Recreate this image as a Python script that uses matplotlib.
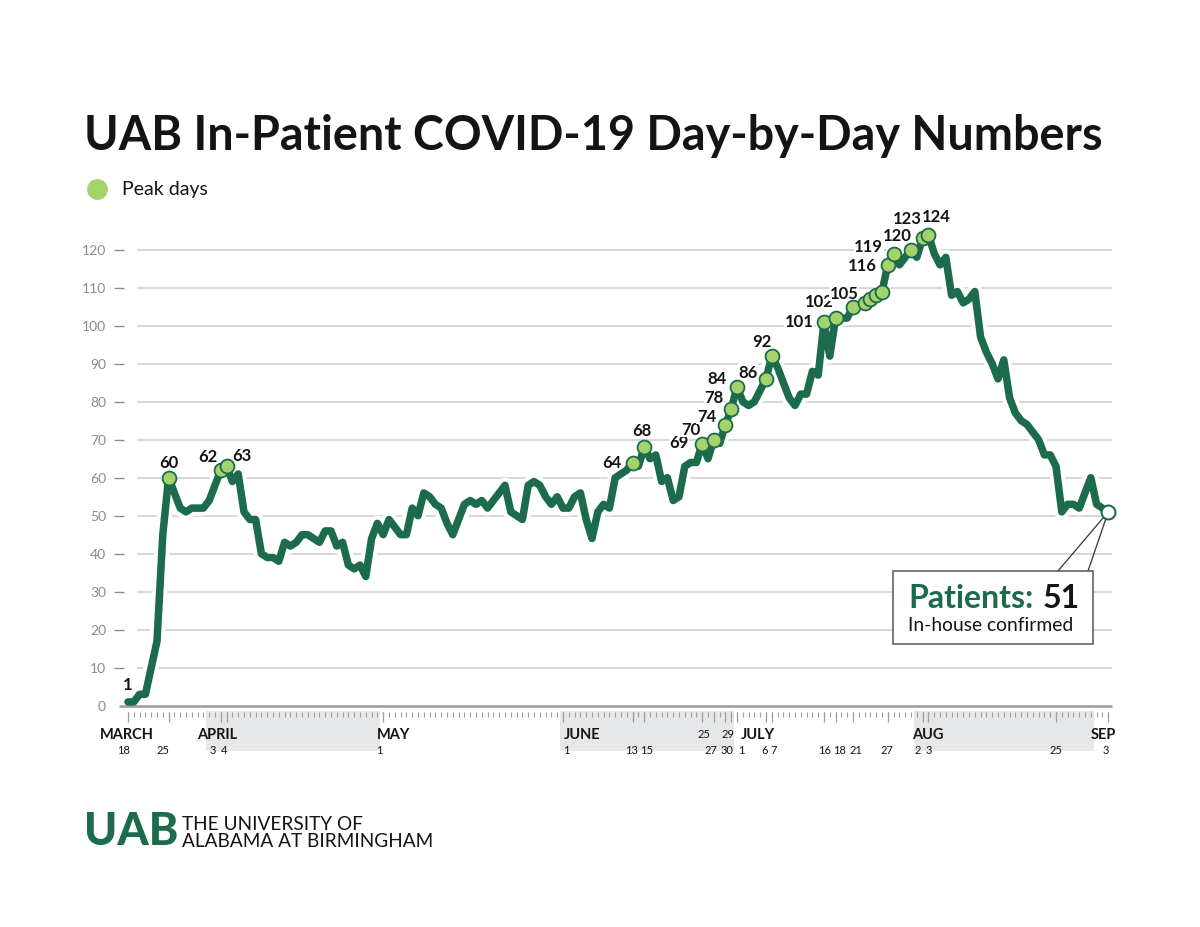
import matplotlib.pyplot as plt
from matplotlib.lines import Line2D
from matplotlib.patches import Rectangle
import numpy as np
import pandas as pd

plt.rcParams['font.family'] = ['Lato', 'DejaVu Sans']

GREEN = '#1b6b4c'
LIGHT = '#a4d36b'
GRID = '#d4d4d4'
AXIS = '#9a9a9a'
BAND = '#e6e7e9'
GREYTXT = '#8c8c8c'
INK = '#141414'

# daily in-patient counts, Mar 18 - Sep 3 2020
dates = pd.date_range('2020-03-18', '2020-09-03', freq='D')
patients = [
    1, 1, 3, 3, 10, 17, 45, 60, 56, 52,
    51, 52, 52, 52, 54, 58, 62, 63, 59, 61,
    51, 49, 49, 40, 39, 39, 38, 43, 42, 43,
    45, 45, 44, 43, 46, 46, 42, 43, 37, 36,
    37, 34, 44, 48, 45, 49, 47, 45, 45, 52,
    50, 56, 55, 53, 52, 48, 45, 49, 53, 54,
    53, 54, 52, 54, 56, 58, 51, 50, 49, 58,
    59, 58, 55, 53, 55, 52, 52, 55, 56, 49,
    44, 51, 53, 52, 60, 61, 62, 64, 63, 68,
    65, 66, 59, 60, 54, 55, 63, 64, 64, 69,
    65, 70, 69, 74, 78, 84, 80, 79, 80, 83,
    86, 92, 89, 85, 81, 79, 82, 82, 88, 87,
    101, 92, 102, 102, 102, 105, 105, 106, 107, 108,
    109, 116, 119, 116, 118, 120, 118, 123, 124, 119,
    116, 118, 108, 109, 106, 107, 109, 97, 93, 90,
    86, 91, 81, 77, 75, 74, 72, 70, 66, 66,
    63, 51, 53, 53, 52, 56, 60, 53, 52, 51,
]

peak_dates = ['2020-03-25', '2020-04-03', '2020-04-04', '2020-06-13', '2020-06-15',
              '2020-06-25', '2020-06-27', '2020-06-29', '2020-06-30', '2020-07-01',
              '2020-07-06', '2020-07-07', '2020-07-16', '2020-07-18', '2020-07-21',
              '2020-07-27', '2020-07-28', '2020-07-31', '2020-08-02', '2020-08-03']
# label offsets from the marker, in pixels
peak_offsets = [(0, 16), (-13, 14), (15, 11), (-21, 0), (-2, 17),
                (-23, 2), (-23, 11), (-19, 9), (-17, 12), (-20, 8),
                (-18, 7), (-10, 15), (-25, 1), (-16, 17), (-9, 14),
                (-26, 0), (-25, 8), (-14, 15), (-15, 20), (8, 19)]
unlabeled_peaks = ['2020-07-23', '2020-07-24', '2020-07-25', '2020-07-26']

lower_dates = ['2020-03-18', '2020-03-25', '2020-04-03', '2020-04-04', '2020-05-01',
               '2020-06-01', '2020-06-13', '2020-06-15', '2020-06-27', '2020-06-30',
               '2020-07-01', '2020-07-06', '2020-07-07', '2020-07-16', '2020-07-18',
               '2020-07-21', '2020-07-27', '2020-08-02', '2020-08-03', '2020-08-25',
               '2020-09-03']
lower_nudge = [-4, -6, -8, -3, -4, 3, -1, 2, -3, -4, 4, -1, 2, 1, 4, 3, -1, -5, 0, 0, -2]
upper_dates = ['2020-06-25', '2020-06-29']
upper_nudge = [2, 3]
month_names = ['MARCH', 'APRIL', 'MAY', 'JUNE', 'JULY', 'AUG', 'SEP']
month_pos = [-4.8, 11.9, 42.9, 75.2, 105.7, 135.2, 165.9]
shaded_months = [('2020-04-01', '2020-04-30'), ('2020-06-01', '2020-06-30'),
                 ('2020-08-01', '2020-08-31')]
yticks = list(range(0, 130, 10))

# pixel layout
W, H = 1200, 928
X0, PXDAY = 128, 5.8
Y0, PXV = 706.7, 3.8
AX_L, AX_R, AX_T, AX_B = 60, 1140, 190, 770


def dx(px):
    return (px - X0) / PXDAY


def dy(py):
    return (Y0 - py) / PXV


def idx(d):
    return dates.get_loc(pd.Timestamp(d))


fig = plt.figure(figsize=(W / 100, H / 100), dpi=100)
ax = fig.add_axes([AX_L / W, 1 - AX_B / H, (AX_R - AX_L) / W, (AX_B - AX_T) / H])
ax.set_xlim(dx(AX_L), dx(AX_R))
ax.set_ylim(dy(AX_B), dy(AX_T))
ax.axis('off')

x = np.arange(len(dates))

# grid and y labels
ax.hlines(yticks[1:], dx(137), dx(1112), color=GRID, lw=1.3, zorder=1)
ax.hlines(yticks[1:], dx(114), dx(124), color=GREYTXT, lw=1, zorder=1)
for v in yticks:
    ax.text(dx(106), v, str(v), ha='right', va='center', fontsize=10, color=GREYTXT)

# x axis area
for a, b in shaded_months:
    i0, i1 = idx(a), idx(b)
    ax.add_patch(Rectangle((i0 - 0.5, dy(752)), i1 - i0 + 1, dy(712) - dy(752),
                           facecolor=BAND, lw=0, zorder=0, clip_on=False))
ax.vlines(x, dy(713), dy(718), color='#9d9d9d', lw=0.8, zorder=1)
long_ticks = [idx(d) for d in lower_dates + upper_dates]
ax.vlines(long_ticks, dy(713), dy(723), color='#9d9d9d', lw=0.9, zorder=1)
for name, p in zip(month_names, month_pos):
    ax.text(p, dy(735), name, ha='left', va='center', fontsize=10.5,
            fontweight='bold', color=INK)
for d, n in zip(lower_dates, lower_nudge):
    ax.text(idx(d) + n / PXDAY, dy(750), str(pd.Timestamp(d).day), ha='center',
            va='center', fontsize=8, color=INK)
for d, n in zip(upper_dates, upper_nudge):
    ax.text(idx(d) + n / PXDAY, dy(735), str(pd.Timestamp(d).day), ha='center',
            va='center', fontsize=8, color=INK)

# line with white halo
ax.plot(x, patients, color='white', lw=11, zorder=2,
        solid_joinstyle='round', solid_capstyle='round')
ax.hlines(0, dx(119), dx(1112), color=AXIS, lw=1.8, zorder=2.5)
ax.plot(x, patients, color=GREEN, lw=5.4, zorder=3,
        solid_joinstyle='round', solid_capstyle='round')

pk = [idx(d) for d in peak_dates + unlabeled_peaks]
ax.plot(pk, [patients[i] for i in pk], 'o', ms=10, mfc=LIGHT, mec=GREEN,
        mew=1.3, zorder=4, clip_on=False)
for d, (ox, oy) in zip(peak_dates, peak_offsets):
    i = idx(d)
    ax.annotate(str(patients[i]), (i, patients[i]), xytext=(ox * 0.72, oy * 0.72),
                textcoords='offset points', ha='center', va='center', fontsize=12,
                fontweight='bold', color=INK, zorder=2.7,
                bbox=dict(fc='white', ec='none', pad=0.4))
ax.annotate(str(patients[0]), (0, patients[0]), xytext=(0, 18 * 0.72),
            textcoords='offset points', ha='center', va='center', fontsize=12,
            fontweight='bold', color=INK, zorder=2.7)
ax.plot(x[-1], patients[-1], 'o', ms=10, mfc='white', mec=GREEN, mew=1.5,
        zorder=5, clip_on=False)

# callout
for sx in (1058, 1088):
    ax.annotate('', xy=(x[-1], patients[-1]), xytext=(sx / W, 1 - 572 / H),
                textcoords='figure fraction', zorder=4,
                arrowprops=dict(arrowstyle='-', color='#333333', lw=0.9,
                                shrinkA=0, shrinkB=5))
ax.add_patch(Rectangle((893 / W, 1 - 645 / H), 200 / W, 73 / H, transform=fig.transFigure,
                       facecolor='white', edgecolor='#555555', lw=1.1, zorder=6,
                       clip_on=False))

r = fig.canvas.get_renderer()
t_pat = fig.text(908 / W, 1 - 608 / H, 'Patients:', fontsize=23, fontweight='bold',
                 color=GREEN, va='baseline', ha='left', zorder=7)
ext = t_pat.get_window_extent(r)
fig.text((ext.x1 + 9) / W, 1 - 608 / H, str(patients[-1]), fontsize=23,
         fontweight='bold', color=INK, va='baseline', ha='left', zorder=7)
t_sub = fig.text(908 / W, 1 - 631 / H, 'In-house confirmed', fontsize=13,
                 color=INK, va='baseline', ha='left', zorder=7)
w = t_sub.get_window_extent(r).width
t_sub.set_fontsize(13 * 165 / w)

# title and legend
title = fig.text(84 / W, 1 - 150 / H, 'UAB In-Patient COVID-19 Day-by-Day Numbers',
                 fontsize=36, fontweight='bold', color=INK, va='baseline', ha='left')
w = title.get_window_extent(r).width
title.set_fontsize(36 * 1018 / w)

fig.add_artist(Line2D([97 / W], [1 - 190 / H], marker='o', ms=14, mfc=LIGHT,
                      mec=LIGHT, transform=fig.transFigure))
fig.text(122 / W, 1 - 190 / H, 'Peak days', fontsize=14, color=INK,
         va='center', ha='left')

# logo
logo = fig.text(84 / W, 1 - 845 / H, 'UAB', fontsize=30, fontweight='black',
                color=GREEN, va='baseline', ha='left')
w = logo.get_window_extent(r).width
logo.set_fontsize(30 * 94 / w)
l1 = fig.text(182 / W, 1 - 830 / H, 'THE UNIVERSITY OF', fontsize=15,
              color=INK, va='baseline', ha='left')
l2 = fig.text(182 / W, 1 - 847 / H, 'ALABAMA AT BIRMINGHAM', fontsize=15,
              color=INK, va='baseline', ha='left')
w = l2.get_window_extent(r).width
l1.set_fontsize(15 * 251 / w)
l2.set_fontsize(15 * 251 / w)

fig.savefig('out.png', dpi=100)
